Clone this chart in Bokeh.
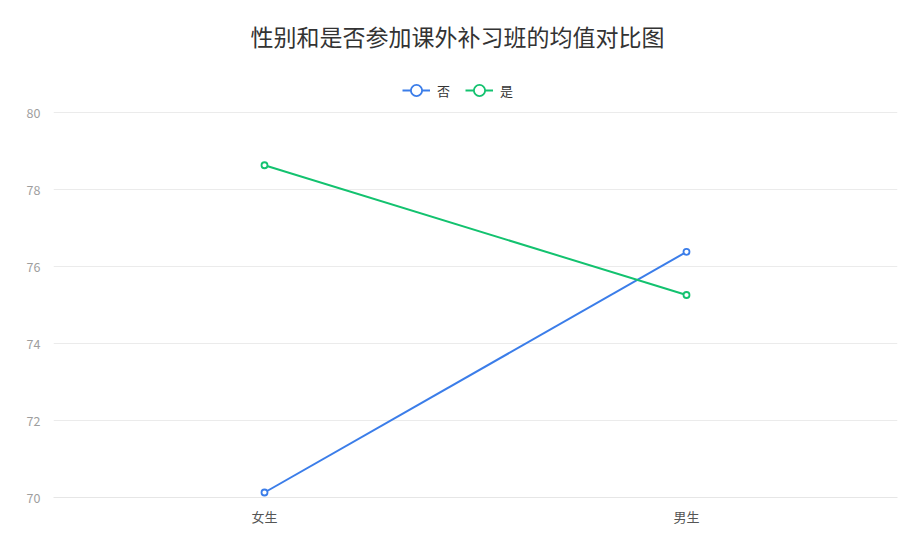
from bokeh.plotting import figure
from bokeh.models import (ColumnDataSource, Legend, LegendItem, Label,
                          FixedTicker, Range1d, FactorRange)
from bokeh.embed import file_html
from bokeh.resources import INLINE

# ---- data ----
categories = ["女生", "男生"]
series_names = ["否", "是"]
values_no = [70.13, 76.38]
values_yes = [78.63, 75.26]
y_ticks = [70, 72, 74, 76, 78, 80]
title_text = "性别和是否参加课外补习班的均值对比图"

colors = ["#3b7de9", "#13c26f"]
FONT = "Noto Sans CJK SC"

# ---- layout (pixels) ----
W, H = 905, 545
LEFT, RIGHT, BOTTOM = 53, 8, 48
FRAME_H = H - BOTTOM            # frame reaches the top; title/legend live inside it
AXIS_PX = 385                   # pixel height of the 70..80 value span
y_lo, y_hi = y_ticks[0], y_ticks[-1]
y_end = y_lo + (y_hi - y_lo) * FRAME_H / AXIS_PX

p = figure(width=W, height=H, x_range=FactorRange(*categories, range_padding=0),
           y_range=Range1d(y_lo, y_end), output_backend="svg", toolbar_location=None,
           min_border_left=LEFT, min_border_right=RIGHT, min_border_top=0,
           min_border_bottom=BOTTOM)
p.outline_line_color = None
p.background_fill_color = "white"
p.border_fill_color = "white"

# axes
p.yaxis.ticker = FixedTicker(ticks=y_ticks)
p.yaxis.axis_line_color = None
p.yaxis.major_tick_line_color = None
p.yaxis.minor_tick_line_color = None
p.yaxis.major_label_text_color = "#9e9e9e"
p.yaxis.major_label_text_font = FONT
p.yaxis.major_label_text_font_size = "12.5px"
p.yaxis.major_label_standoff = 7

p.xaxis.axis_line_color = "#e6e6e6"
p.xaxis.major_tick_line_color = None
p.xaxis.minor_tick_line_color = None
p.xaxis.major_label_text_color = "#555555"
p.xaxis.major_label_text_font = FONT
p.xaxis.major_label_text_font_size = "13px"
p.xaxis.major_label_standoff = 3

p.xgrid.grid_line_color = None
p.ygrid.grid_line_color = "#ebebeb"

items = []
for name, vals, col in zip(series_names, [values_no, values_yes], colors):
    src = ColumnDataSource(dict(x=categories, y=vals))
    r1 = p.line("x", "y", source=src, line_color=col, line_width=2)
    r2 = p.scatter("x", "y", source=src, size=6, line_color=col, line_width=1.8,
                   fill_color="white")
    items.append(LegendItem(label=name, renderers=[r1, r2]))

legend = Legend(items=items, orientation="horizontal",
                location=(402 - LEFT, FRAME_H - 104),
                border_line_color=None, background_fill_alpha=0,
                label_text_font=FONT, label_text_font_size="13px",
                label_text_color="#333333", glyph_width=28, glyph_height=28,
                spacing=8, padding=0, label_standoff=7, margin=0)
p.add_layout(legend, "center")

title = Label(x=457 - LEFT, y=FRAME_H - 35, x_units="screen", y_units="screen",
              text=title_text, text_align="center", text_baseline="middle",
              text_font=FONT, text_font_size="23px", text_color="#333333")
p.add_layout(title)

open("out.html", "w").write(file_html(p, INLINE))
